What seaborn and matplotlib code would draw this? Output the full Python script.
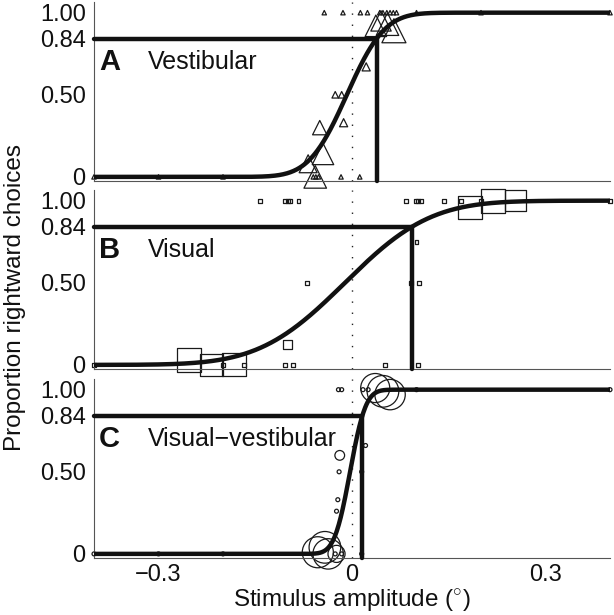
import math
import numpy as np
import pandas as pd
import matplotlib
matplotlib.use("Agg")
import matplotlib.pyplot as plt
import seaborn as sns

# ---------------- data ----------------
# Panel A: vestibular (triangles)
vest_x = [-0.043, -0.014, 0.013, 0.024, 0.043, 0.048, 0.054, 0.059, 0.064, 0.069, 0.100, 0.200, 0.400,
          -0.400, -0.300, -0.200, -0.060, -0.056, -0.052, -0.017, 0.012,
          -0.026, -0.016, 0.022, -0.013,
          -0.050, -0.045, -0.068, -0.057, 0.037, 0.045, 0.055, 0.065]
vest_y = [1.00, 1.00, 1.00, 1.00, 1.00, 1.00, 1.00, 1.00, 1.00, 1.00, 1.00, 1.00, 1.00,
          0.00, 0.00, 0.00, 0.00, 0.00, 0.00, 0.00, 0.00,
          0.50, 0.50, 0.67, 0.33,
          0.30, 0.14, 0.08, 0.00, 0.92, 0.95, 0.93, 0.89]
vest_n = [1, 1, 1, 1, 1, 1, 1, 1, 1, 1, 1, 1, 1,
          1, 1, 1, 1, 1, 1, 1, 1,
          2, 2, 3, 3,
          9, 20, 14, 22, 20, 18, 22, 25]

# Panel B: visual (squares)
vis_x = [-0.142, -0.104, -0.0995, -0.0966, -0.083, 0.084, 0.099, 0.1026, 0.107, 0.142, 0.169, 0.200, 0.400,
         -0.400, -0.200, -0.168, -0.104, -0.092, 0.051, 0.103,
         0.100, 0.092, 0.104, -0.070, -0.0996,
         -0.252, -0.218, -0.183, 0.183, 0.218, 0.253]
vis_y = [1.00, 1.00, 1.00, 1.00, 1.00, 1.00, 1.00, 1.00, 1.00, 1.00, 1.00, 1.00, 1.00,
         0.00, 0.00, 0.00, 0.00, 0.00, 0.00, 0.00,
         0.75, 0.50, 0.50, 0.50, 0.125,
         0.03, 0.00, 0.00, 0.96, 1.00, 1.00]
vis_n = [1, 1, 1, 1, 1, 1, 1, 1, 1, 1, 1, 1, 1,
         1, 1, 1, 1, 1, 1, 1,
         1, 1, 1, 1, 4,
         28, 24, 26, 26, 28, 22]

# Panel C: visual-vestibular (circles)
comb_x = [-0.021, -0.016, 0.017, 0.025, 0.100, 0.400,
          -0.400, -0.300, -0.200, -0.026, -0.016, 0.015,
          0.021, -0.019, -0.020, -0.022, -0.024, 0.015,
          0.036, 0.048, 0.059,
          -0.053, -0.042, -0.037, -0.024]
comb_y = [1.00, 1.00, 1.00, 1.00, 1.00, 1.00,
          0.00, 0.00, 0.00, 0.00, 0.00, 0.00,
          0.66, 0.60, 0.50, 0.33, 0.26, 0.50,
          1.01, 0.99, 0.97,
          0.01, 0.04, 0.00, 0.00]
comb_n = [1, 1, 1, 1, 1, 1,
          1, 1, 1, 1, 1, 1,
          1, 3, 1, 1, 1, 1,
          22, 26, 24,
          25, 26, 24, 8]

# fitted cumulative-Gaussian parameters (mean, sd)
fit_mu = [-0.008, -0.011, -0.003]
fit_sigma = [0.046, 0.104, 0.019]

panel_letters = ["A", "B", "C"]
panel_names = ["Vestibular", "Visual", "Visual\u2212vestibular"]
ytick_vals = [0, 0.50, 0.84, 1.00]
ytick_labels = ["0", "0.50", "0.84", "1.00"]
xtick_vals = [-0.3, 0, 0.3]
xtick_labels = ["\u22120.3", "0", "0.3"]
x_label = "Stimulus amplitude ($^{\\circ}$)"
y_label = "Proportion rightward choices"

# ---------------- styling ----------------
sns.set_style("white")
plt.rcParams["font.family"] = ["Liberation Sans", "DejaVu Sans"]
plt.rcParams["mathtext.fontset"] = "custom"
plt.rcParams["mathtext.rm"] = "Liberation Sans"

FS_TICK = 17
FS_NAME = 18
FS_LAB = 17.5
fig = plt.figure(figsize=(6.14, 6.15), dpi=100)
left, width = 94 / 614, 516 / 614
tops_px = [2, 190, 379]
h_px = 179
XLIM = (-0.4, 0.4)
YLIM = (-0.025, 1.065)
spine_col = "#555555"
ink = "#111111"

datasets = [
    (vest_x, vest_y, vest_n, "^", (10, 300), (1, 25)),
    (vis_x, vis_y, vis_n, "s", (8, 300), (1, 28)),
    (comb_x, comb_y, comb_n, "o", (8, 520), (1, 26)),
]

xs = np.linspace(XLIM[0], XLIM[1], 800)
erf_v = np.vectorize(math.erf)

for i in range(3):
    bottom = 1 - (tops_px[i] + h_px) / 615
    ax = fig.add_axes([left, bottom, width, h_px / 615])
    px, py, pn, mk, srange, snorm = datasets[i]
    df = pd.DataFrame({"x": px, "y": py, "n": pn})

    # dotted zero line
    ax.axvline(0, color="#222222", lw=1.0, ls=(0, (1, 7)), zorder=1)

    sns.scatterplot(data=df, x="x", y="y", size="n", sizes=srange, size_norm=snorm,
                    marker=mk, facecolors="none", edgecolor="#1a1a1a", linewidth=0.9,
                    legend=False, ax=ax, zorder=2, clip_on=False)

    mu, sd = fit_mu[i], fit_sigma[i]
    curve = pd.DataFrame({"x": xs, "p": 0.5 * (1 + erf_v((xs - mu) / (sd * math.sqrt(2))))})
    sns.lineplot(data=curve, x="x", y="p", color=ink, lw=3.2, ax=ax, zorder=4)

    thr = mu + sd
    ax.plot([XLIM[0], thr, thr], [0.84, 0.84, YLIM[0]], color=ink, lw=3.2,
            solid_joinstyle="miter", zorder=4, clip_on=False)

    ax.set_xlim(*XLIM)
    ax.set_ylim(*YLIM)
    ax.set_yticks(ytick_vals)
    ax.set_yticklabels(ytick_labels)
    ax.set_xticks(xtick_vals)
    if i == 2:
        ax.set_xticklabels(xtick_labels)
    else:
        ax.set_xticklabels([])
    ax.set_xlabel("")
    ax.set_ylabel("")
    for s in ["top", "right"]:
        ax.spines[s].set_visible(False)
    for s in ["left", "bottom"]:
        ax.spines[s].set_color(spine_col)
        ax.spines[s].set_linewidth(0.8)
    ax.tick_params(direction="in", length=4, width=0.8, color=spine_col,
                   labelsize=FS_TICK, labelcolor=ink)
    ax.tick_params(axis="y", pad=6)
    ax.tick_params(axis="x", pad=4)
    ax.set_facecolor("white")

    ax.text(-0.392, 0.70, panel_letters[i], fontsize=21, fontweight="bold",
            va="center", ha="left", color=ink, zorder=5)
    ax.text(-0.317, 0.70, panel_names[i], fontsize=FS_NAME, va="center", ha="left",
            color=ink, zorder=5)

fig.text(352 / 614, 1.5 / 615, x_label, fontsize=FS_LAB, va="bottom", ha="center",
         color=ink)
fig.text(15 / 614, 0.517, y_label, rotation=90,
         fontsize=FS_LAB, va="center", ha="center", color=ink)

fig.savefig("out.png", dpi=100, facecolor="white")
